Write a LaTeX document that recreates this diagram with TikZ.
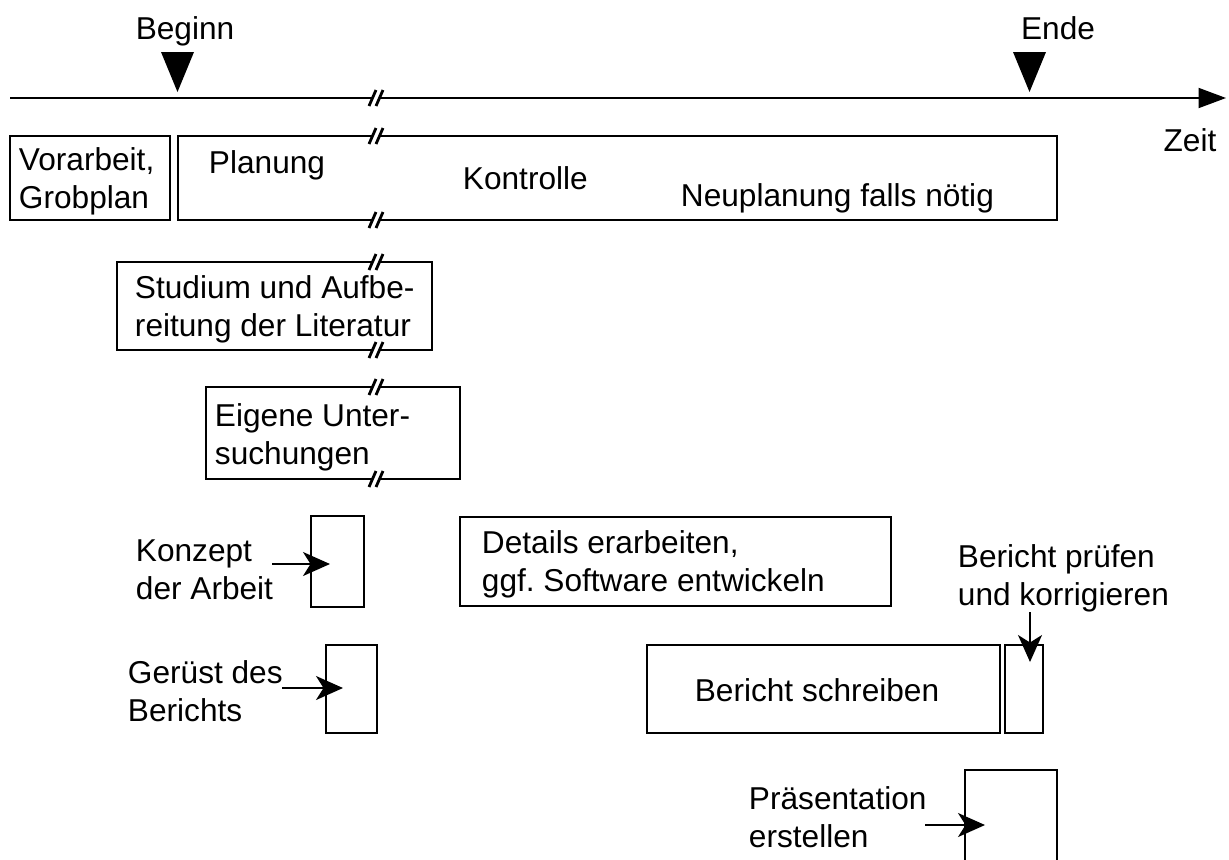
\documentclass[tikz,border=0pt]{standalone}
\usepackage{fontspec}
\setmainfont{Liberation Sans}
\usetikzlibrary{arrows.meta}
\usetikzlibrary{fit}

\begin{document}
\begin{tikzpicture}[x = 0.02cm, y = -0.02cm, line width = 1.1pt, font = \fontsize{18}{21.6}\selectfont]
\tikzstyle{boxStyle} = [draw, rectangle, inner sep = 0pt]
\tikzstyle{textStyle} = [inner sep = 0pt, align = left, anchor = west]
\tikzstyle{pointerStyle} = [-{Stealth[length = 0.54cm, width = 0.48cm, inset = 0.15cm]}]
\useasboundingbox (0,0) rectangle (1229,859);
\coordinate (t0) at (10,98);
\coordinate (t1) at (1226,98);
\draw[-{Triangle[length = 0.55cm, width = 0.4cm]}] (t0) -- (t1);
\node[inner sep = 0pt] (beginn) at (185,31) {Beginn};
\node[inner sep = 0pt] (ende) at (1058,28) {Ende};
\node[inner sep = 0pt] (zeit) at (1190,140) {Zeit};
\fill (161,52) -- (194,52) -- (177.5,92) -- cycle;
\fill (1013,52) -- (1046,52) -- (1029.5,92) -- cycle;
\node[boxStyle, fit = {(10,136) (170,220)}] (vorarbeit) {};
\node[boxStyle, fit = {(178,136) (1057,220)}] (planung) {};
\node[boxStyle, fit = {(117,262) (432,350)}] (studium) {};
\node[boxStyle, fit = {(206,387) (460,479)}] (eigene) {};
\node[boxStyle, fit = {(311,516) (364,607)}] (konzept) {};
\node[boxStyle, fit = {(326,645) (377,733)}] (geruest) {};
\node[boxStyle, fit = {(460,517) (891,606)}] (details) {};
\node[boxStyle, fit = {(647,645) (1000,733)}] (schreiben) {};
\node[boxStyle, fit = {(1005,645) (1043,733)}] (pruefen) {};
\draw (965,860) -- (965,770) -- (1057,770) -- (1057,860);
\node[textStyle] (vorarbeitText) at (18,181) {Vorarbeit,\\Grobplan};
\node[textStyle] (planungText) at (208,165) {Planung};
\node[textStyle] (kontrolleText) at (462,178) {Kontrolle};
\node[textStyle] (neuplanungText) at (680,198) {Neuplanung falls nötig};
\node[textStyle] (studiumText) at (134,309) {Studium und Aufbe-\\reitung der Literatur};
\node[textStyle] (eigeneText) at (214,437) {Eigene Unter-\\suchungen};
\node[textStyle] (konzeptText) at (135,570) {Konzept\\der Arbeit};
\node[textStyle] (geruestText) at (127,691) {Gerüst des\\Berichts};
\node[textStyle] (detailsText) at (481,564) {Details erarbeiten,\\ggf.\ Software entwickeln};
\node[inner sep = 0pt] (schreibenText) at (817,690) {Bericht schreiben};
\node[textStyle] (pruefenText) at (957,578) {Bericht prüfen\\und korrigieren};
\node[textStyle] (praesText) at (748,817) {Präsentation\\erstellen};
\coordinate (k0) at (272,564);
\coordinate (k1) at (330,564);
\coordinate (g0) at (282,688);
\coordinate (g1) at (343,688);
\coordinate (p0) at (1030,612);
\coordinate (p1) at (1030,662);
\coordinate (s0) at (925,825);
\coordinate (s1) at (985,825);
\draw[pointerStyle] (k0) -- (k1);
\draw[pointerStyle] (g0) -- (g1);
\draw[pointerStyle] (p0) -- (p1);
\draw[pointerStyle] (s0) -- (s1);
\foreach \x/\y in {376/98, 376/136, 376/220, 376/262, 376/350, 376/387, 376/479} {
  \fill[white] (\x-7,\y+8) -- (\x,\y-8) -- (\x+7,\y-8) -- (\x,\y+8) -- cycle;
  \draw[line width = 1.6pt] (\x-7,\y+8) -- (\x,\y-8) (\x,\y+8) -- (\x+7,\y-8);
}
\end{tikzpicture}
\end{document}
